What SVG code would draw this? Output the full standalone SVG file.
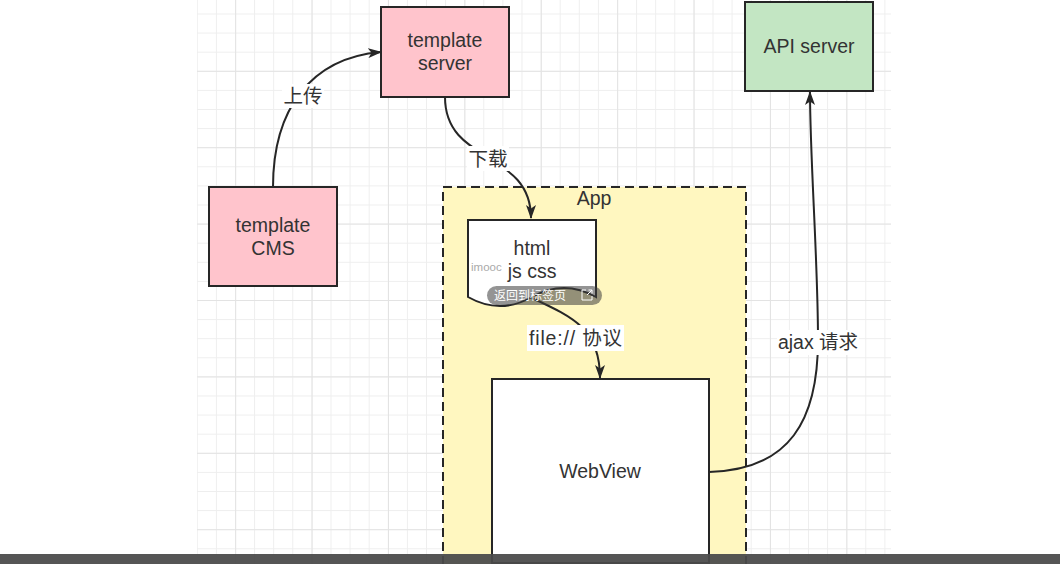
<svg xmlns="http://www.w3.org/2000/svg" width="1060" height="564" viewBox="0 0 1060 564">
<style>
.node{stroke:#262626;stroke-width:2}
.t{font-family:"Liberation Sans","Noto Sans CJK SC",Arial,sans-serif;font-size:19.5px;fill:#333;text-anchor:middle}
.conn{fill:none;stroke:#262626;stroke-width:2}
.lbg{fill:#fff}
</style>
<defs>
<pattern id="gmin" patternUnits="userSpaceOnUse" x="196.8" y="13.5" width="19.1" height="19.1">
<path d="M0.5,0V19.1M0,0.5H19.1" stroke="#eeeeee" stroke-width="1" fill="none"/>
</pattern>
<pattern id="gmaj" patternUnits="userSpaceOnUse" x="235.2" y="70.8" width="76.4" height="76.4">
<path d="M0.5,0V76.4M0,0.5H76.4" stroke="#e3e3e3" stroke-width="1" fill="none"/>
</pattern>
<marker id="arr" markerUnits="userSpaceOnUse" viewBox="0 0 14 10" refX="13" refY="5" markerWidth="14" markerHeight="10" orient="auto">
<path d="M0,0L14,5L0,10L3.5,5Z" fill="#262626"/>
</marker>
</defs>
<rect width="1060" height="564" fill="#fff"/>
<rect x="197" y="0" width="694" height="564" fill="url(#gmin)"/>
<rect x="197" y="0" width="694" height="564" fill="url(#gmaj)"/>

<g id="app">
<rect x="443" y="187" width="303" height="390" fill="#fff7c0" stroke="#262626" stroke-width="2" stroke-dasharray="9,5"/>
<text class="t" x="594" y="205">App</text>
</g>

<g id="template-server">
<rect class="node" x="381" y="7" width="128" height="90" fill="#ffc4cc"/>
<text class="t" x="445" y="47">template</text>
<text class="t" x="445" y="70">server</text>
</g>

<g id="template-cms">
<rect class="node" x="209" y="187" width="128" height="99" fill="#ffc4cc"/>
<text class="t" x="273" y="232">template</text>
<text class="t" x="273" y="255">CMS</text>
</g>

<g id="api-server">
<rect class="node" x="745" y="2" width="128" height="89" fill="#c3e6c3"/>
<text class="t" x="809" y="53">API server</text>
</g>

<g id="html-doc">
<path class="node" d="M468,220L596,220L596,297Q564,279 532,297Q500,315 468,297Z" fill="#fff"/>
<text class="t" x="532" y="255">html</text>
<text class="t" x="532" y="278">js css</text>
</g>

<g id="webview">
<rect class="node" x="492" y="379" width="217" height="184" fill="#fff"/>
<text class="t" x="600" y="478">WebView</text>
</g>

<g id="connectors">
<path class="conn" d="M273,187C273,110 310,58 381,52" marker-end="url(#arr)"/>
<path class="conn" d="M445,97C445,165 531,150 531,218" marker-end="url(#arr)"/>
<path class="conn" d="M532,298C575,318 600,330 600,378" marker-end="url(#arr)"/>
<path class="conn" d="M709,472C790,470 818,420 818,340C818,260 810,160 810,92" marker-end="url(#arr)"/>
<rect class="lbg" x="282" y="84" width="42" height="24"/>
<text class="t" x="303" y="103">上传</text>
<rect class="lbg" x="467" y="146" width="42" height="25"/>
<text class="t" x="488" y="166">下载</text>
<rect class="lbg" x="527" y="325" width="97" height="26"/>
<text class="t" x="575.5" y="345" textLength="93" lengthAdjust="spacing">file:// 协议</text>
<rect class="lbg" x="777" y="330" width="82" height="25"/>
<text class="t" x="818" y="349">ajax 请求</text>
</g>

<text x="471" y="271" font-family="Liberation Sans,Arial,sans-serif" font-size="11.5" fill="#aaaaaa">imooc</text>
<g id="tooltip">
<rect x="487" y="286" width="115" height="19" rx="9.5" fill="#3c3c3c" fill-opacity="0.55"/>
<text x="494" y="300" font-family="Noto Sans CJK SC,sans-serif" font-size="12" fill="#fff">返回到标签页</text>
<path d="M586,290H582V300H592V296M587,295L592,290M588.5,290H592V293.5" fill="none" stroke="#fff" stroke-width="1"/>
</g>
<rect x="0" y="554" width="1060" height="10" fill="#4a4a4a" fill-opacity="0.94"/>
</svg>
